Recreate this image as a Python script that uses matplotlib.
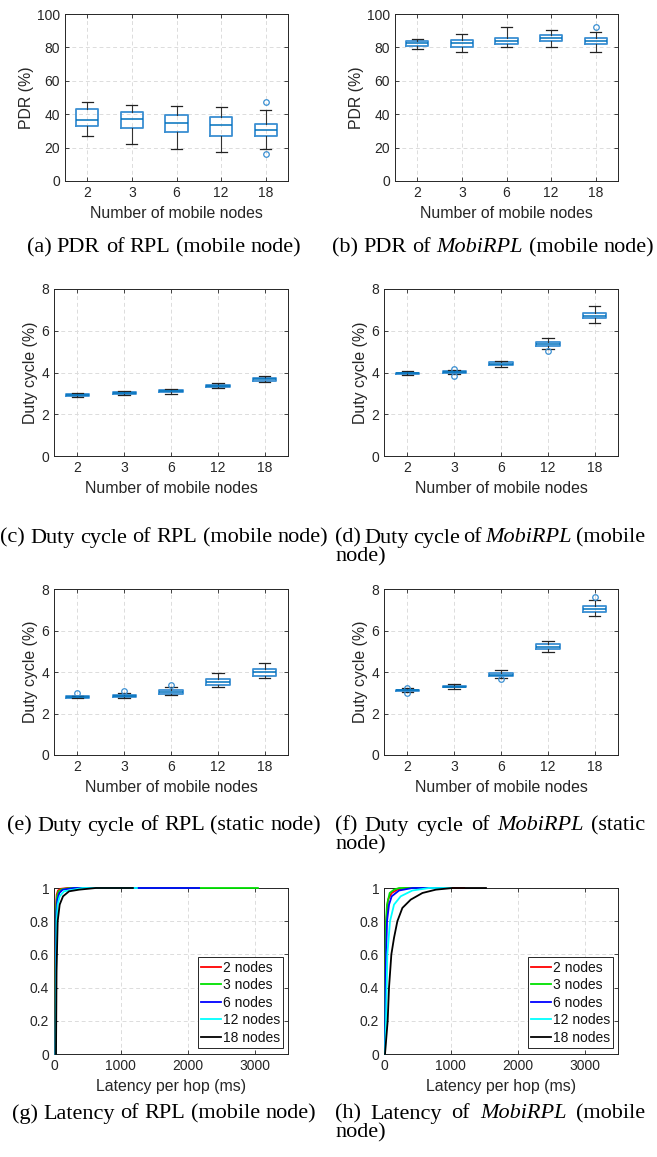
import matplotlib
matplotlib.use("Agg")
import matplotlib.pyplot as plt
from matplotlib.transforms import IdentityTransform

# ---------------- data ----------------
categories = ["2", "3", "6", "12", "18"]

rpl_pdr_med = [36.8, 37.2, 34.6, 33.8, 30.6]
rpl_pdr_q1 = [33.0, 31.6, 29.6, 27.0, 27.0]
rpl_pdr_q3 = [43.0, 41.4, 39.4, 38.4, 34.0]
rpl_pdr_lo = [27.0, 22.4, 19.0, 17.6, 19.0]
rpl_pdr_hi = [47.6, 45.6, 45.0, 44.4, 42.6]
rpl_pdr_out = [[], [], [], [], [47.6, 16.0]]

mobi_pdr_med = [82.6, 82.8, 83.8, 85.6, 83.6]
mobi_pdr_q1 = [81.0, 80.0, 81.8, 83.8, 82.0]
mobi_pdr_q3 = [84.0, 84.4, 85.8, 87.2, 85.4]
mobi_pdr_lo = [79.0, 77.4, 80.4, 80.0, 77.0]
mobi_pdr_hi = [85.0, 88.0, 92.0, 90.4, 89.2]
mobi_pdr_out = [[], [], [], [], [92.0]]

rpl_dcm_med = [2.93, 3.00, 3.12, 3.37, 3.67]
rpl_dcm_q1 = [2.88, 2.95, 3.06, 3.32, 3.61]
rpl_dcm_q3 = [2.97, 3.06, 3.18, 3.42, 3.73]
rpl_dcm_lo = [2.85, 2.91, 2.98, 3.25, 3.53]
rpl_dcm_hi = [3.02, 3.10, 3.23, 3.49, 3.83]
rpl_dcm_out = [[], [], [], [], []]

mobi_dcm_med = [3.96, 4.03, 4.43, 5.38, 6.73]
mobi_dcm_q1 = [3.92, 3.99, 4.38, 5.29, 6.61]
mobi_dcm_q3 = [4.00, 4.07, 4.49, 5.46, 6.84]
mobi_dcm_lo = [3.86, 3.95, 4.25, 5.14, 6.36]
mobi_dcm_hi = [4.07, 4.10, 4.56, 5.67, 7.19]
mobi_dcm_out = [[], [4.17, 3.84], [], [5.02], []]

rpl_dcs_med = [2.78, 2.83, 3.04, 3.50, 3.98]
rpl_dcs_q1 = [2.75, 2.78, 2.96, 3.36, 3.82]
rpl_dcs_q3 = [2.82, 2.89, 3.12, 3.65, 4.14]
rpl_dcs_lo = [2.73, 2.75, 2.89, 3.26, 3.73]
rpl_dcs_hi = [2.86, 3.00, 3.26, 3.97, 4.42]
rpl_dcs_out = [[2.97], [3.10], [3.37], [], []]

mobi_dcs_med = [3.12, 3.29, 3.87, 5.22, 7.02]
mobi_dcs_q1 = [3.08, 3.26, 3.81, 5.11, 6.88]
mobi_dcs_q3 = [3.15, 3.34, 3.95, 5.33, 7.16]
mobi_dcs_lo = [3.04, 3.18, 3.73, 4.95, 6.68]
mobi_dcs_hi = [3.21, 3.41, 4.08, 5.51, 7.49]
mobi_dcs_out = [[3.24, 2.99], [], [3.66], [], [7.61]]

cdf_labels = ["2 nodes", "3 nodes", "6 nodes", "12 nodes", "18 nodes"]
cdf_colors = ["#ff0000", "#00e000", "#0000ff", "#00ffff", "#000000"]

# RPL latency CDF (ms, fraction)
rpl_lat_x = [
    [20, 25, 30, 40, 60, 100, 200, 700],
    [20, 25, 32, 45, 70, 120, 250, 3050],
    [22, 28, 35, 50, 80, 130, 300, 2170],
    [25, 32, 40, 55, 85, 150, 425, 1240],
    [30, 38, 55, 85, 135, 225, 375, 625, 1180],
]
rpl_lat_y = [
    [0, 0.6, 0.9, 0.96, 0.985, 0.995, 1.0, 1.0],
    [0, 0.5, 0.88, 0.95, 0.98, 0.993, 1.0, 1.0],
    [0, 0.5, 0.85, 0.93, 0.97, 0.99, 1.0, 1.0],
    [0, 0.5, 0.8, 0.9, 0.95, 0.98, 1.0, 1.0],
    [0, 0.5, 0.8, 0.9, 0.95, 0.98, 0.99, 1.0, 1.0],
]
# MobiRPL latency CDF
mobi_lat_x = [
    [15, 22, 35, 60, 115, 200, 325, 1200],
    [15, 20, 30, 45, 85, 150, 225, 800],
    [15, 25, 45, 75, 115, 225, 425, 900],
    [15, 30, 50, 90, 150, 250, 425, 675, 1000],
    [15, 55, 75, 110, 150, 200, 275, 400, 575, 775, 1025, 1525],
]
mobi_lat_y = [
    [0, 0.5, 0.8, 0.93, 0.97, 0.99, 1.0, 1.0],
    [0, 0.5, 0.8, 0.9, 0.97, 0.99, 1.0, 1.0],
    [0, 0.5, 0.8, 0.9, 0.95, 0.985, 1.0, 1.0],
    [0, 0.2, 0.6, 0.8, 0.9, 0.95, 0.985, 1.0, 1.0],
    [0, 0.2, 0.4, 0.6, 0.7, 0.8, 0.88, 0.93, 0.97, 0.99, 1.0, 1.0],
]

captions_left = [
    [("(a)", 0), ("PDR", 0), ("of", 0), ("RPL", 0), ("(mobile", 0), ("node)", 0)],
    [("(c)", 0), ("Duty", 0), ("cycle", 0), ("of", 0), ("RPL", 0), ("(mobile", 0), ("node)", 0)],
    [("(e)", 0), ("Duty", 0), ("cycle", 0), ("of", 0), ("RPL", 0), ("(static", 0), ("node)", 0)],
    [("(g)", 0), ("Latency", 0), ("of", 0), ("RPL", 0), ("(mobile", 0), ("node)", 0)],
]
captions_right = [
    [[("(b)", 0), ("PDR", 0), ("of", 0), ("MobiRPL", 1), ("(mobile", 0), ("node)", 0)]],
    [[("(d)", 0), ("Duty", 0), ("cycle", 0), ("of", 0), ("MobiRPL", 1), ("(mobile", 0)], [("node)", 0)]],
    [[("(f)", 0), ("Duty", 0), ("cycle", 0), ("of", 0), ("MobiRPL", 1), ("(static", 0)], [("node)", 0)]],
    [[("(h)", 0), ("Latency", 0), ("of", 0), ("MobiRPL", 1), ("(mobile", 0)], [("node)", 0)]],
]

# ---------------- style ----------------
W, H = 657, 1157
DPI = 100
plt.rcParams["font.family"] = ["Liberation Sans", "DejaVu Sans"]
TXT = "#262626"
BLUE = "#0072BD"
TICK_FS = 10
LAB_FS = 11.4
CAP_FS = 16

fig = plt.figure(figsize=(W / DPI, H / DPI), dpi=DPI)


def add_axes_px(left, top, right, bottom):
    return fig.add_axes([left / W, 1 - bottom / H, (right - left) / W, (bottom - top) / H])


def style_axes(ax):
    for s in ax.spines.values():
        s.set_color(TXT)
        s.set_linewidth(0.7)
    ax.tick_params(direction="in", length=3, width=0.6, colors=TXT, labelsize=TICK_FS,
                   top=True, right=True, labelcolor=TXT)
    ax.grid(True, linestyle=(0, (4, 3)), color="#dcdcdc", linewidth=0.7)
    ax.set_axisbelow(True)


def box_panel(ax, med, q1, q3, lo, hi, out, ylim, yticks, ylabel, ylab_x):
    stats = []
    for i in range(len(categories)):
        stats.append(dict(med=med[i], q1=q1[i], q3=q3[i], whislo=lo[i], whishi=hi[i],
                          fliers=out[i], label=categories[i]))
    ax.bxp(stats, positions=range(1, len(categories) + 1), widths=0.5, capwidths=0.25,
           boxprops=dict(color="#3a8fd2", linewidth=1.3),
           medianprops=dict(color=BLUE, linewidth=1.1),
           whiskerprops=dict(color="#333333", linewidth=0.8),
           capprops=dict(color="#222222", linewidth=0.9),
           flierprops=dict(marker="o", markersize=4, markerfacecolor="none",
                           markeredgecolor="#3a8fd2", markeredgewidth=0.9))
    ax.set_xlim(0.5, len(categories) + 0.5)
    ax.set_ylim(*ylim)
    ax.set_yticks(yticks)
    ax.set_xticks(range(1, len(categories) + 1))
    ax.set_xticklabels(categories)
    style_axes(ax)
    ax.set_ylabel(ylabel, fontsize=LAB_FS, color=TXT)
    ax.yaxis.set_label_coords(ylab_x, 0.5)
    ax.set_xlabel("Number of mobile nodes", fontsize=LAB_FS, color=TXT)
    ax.xaxis.set_label_coords(0.5, -0.15)


def cdf_panel(ax, xs, ys):
    for i in range(len(cdf_labels)):
        ax.plot(xs[i], ys[i], color=cdf_colors[i], linewidth=1.3, label=cdf_labels[i],
                zorder=3, clip_on=False)
    ax.set_xlim(0, 3500)
    ax.set_ylim(0, 1)
    ax.set_xticks([0, 1000, 2000, 3000])
    ax.set_yticks([0, 0.2, 0.4, 0.6, 0.8, 1.0])
    ax.set_yticklabels(["0", "0.2", "0.4", "0.6", "0.8", "1"])
    style_axes(ax)
    ax.set_xlabel("Latency per hop (ms)", fontsize=LAB_FS, color=TXT)
    ax.xaxis.set_label_coords(0.5, -0.15)
    leg = ax.legend(loc="lower right", bbox_to_anchor=(0.98, 0.035), fontsize=TICK_FS,
                    frameon=True, fancybox=False, framealpha=1, edgecolor=TXT,
                    handlelength=1.4, handletextpad=0.15, labelspacing=0.25,
                    borderpad=0.25, borderaxespad=0.0)
    leg.get_frame().set_linewidth(0.7)
    leg.set_zorder(5)
    for t in leg.get_texts():
        t.set_color("#111111")


# row 1
axa = add_axes_px(65, 14, 288, 181)
box_panel(axa, rpl_pdr_med, rpl_pdr_q1, rpl_pdr_q3, rpl_pdr_lo, rpl_pdr_hi, rpl_pdr_out,
          (0, 100), [0, 20, 40, 60, 80, 100], "PDR (%)", -0.14)
axb = add_axes_px(395, 14, 618, 181)
box_panel(axb, mobi_pdr_med, mobi_pdr_q1, mobi_pdr_q3, mobi_pdr_lo, mobi_pdr_hi, mobi_pdr_out,
          (0, 100), [0, 20, 40, 60, 80, 100], "PDR (%)", -0.14)
# row 2
axc = add_axes_px(54, 289, 288, 456)
box_panel(axc, rpl_dcm_med, rpl_dcm_q1, rpl_dcm_q3, rpl_dcm_lo, rpl_dcm_hi, rpl_dcm_out,
          (0, 8), [0, 2, 4, 6, 8], "Duty cycle (%)", -0.068)
axd = add_axes_px(384, 289, 618, 456)
box_panel(axd, mobi_dcm_med, mobi_dcm_q1, mobi_dcm_q3, mobi_dcm_lo, mobi_dcm_hi, mobi_dcm_out,
          (0, 8), [0, 2, 4, 6, 8], "Duty cycle (%)", -0.068)
# row 3
axe = add_axes_px(54, 589, 288, 755)
box_panel(axe, rpl_dcs_med, rpl_dcs_q1, rpl_dcs_q3, rpl_dcs_lo, rpl_dcs_hi, rpl_dcs_out,
          (0, 8), [0, 2, 4, 6, 8], "Duty cycle (%)", -0.068)
axf = add_axes_px(384, 589, 618, 755)
box_panel(axf, mobi_dcs_med, mobi_dcs_q1, mobi_dcs_q3, mobi_dcs_lo, mobi_dcs_hi, mobi_dcs_out,
          (0, 8), [0, 2, 4, 6, 8], "Duty cycle (%)", -0.068)
# row 4
axg = add_axes_px(54, 888, 288, 1054)
cdf_panel(axg, rpl_lat_x, rpl_lat_y)
axh = add_axes_px(384, 888, 618, 1054)
cdf_panel(axh, mobi_lat_x, mobi_lat_y)

# ---------------- captions ----------------
renderer = fig.canvas.get_renderer()
space_px = 0.25 * CAP_FS * DPI / 72.0


def draw_line(segs, y_top_px, mode, x0, x1=None):
    texts, widths = [], []
    y = H - y_top_px
    for w, it in segs:
        t = fig.text(0, y, w, fontsize=CAP_FS, family=["Liberation Serif", "DejaVu Serif"],
                     style="italic" if it else "normal", ha="left", va="center",
                     transform=IdentityTransform(), color="black")
        texts.append(t)
        widths.append(t.get_window_extent(renderer).width)
    n = len(texts)
    if mode == "center":
        total = sum(widths) + space_px * (n - 1)
        x = x0 - total / 2
        gap = space_px
    elif mode == "justify" and n > 1:
        x = x0
        gap = (x1 - x0 - sum(widths)) / (n - 1)
    else:
        x = x0
        gap = space_px
    for t, w in zip(texts, widths):
        t.set_x(x)
        x += w + gap


cap_y = [248, 538, 826, 1114]
for i in range(4):
    draw_line(captions_left[i], cap_y[i], "center", 164)
    lines = captions_right[i]
    if len(lines) == 1:
        draw_line(lines[0], cap_y[i], "center", 493)
    else:
        draw_line(lines[0], cap_y[i], "justify", 335, 645)
        draw_line(lines[1], cap_y[i] + 19, "left", 335)

fig.savefig("out.png", dpi=DPI)
